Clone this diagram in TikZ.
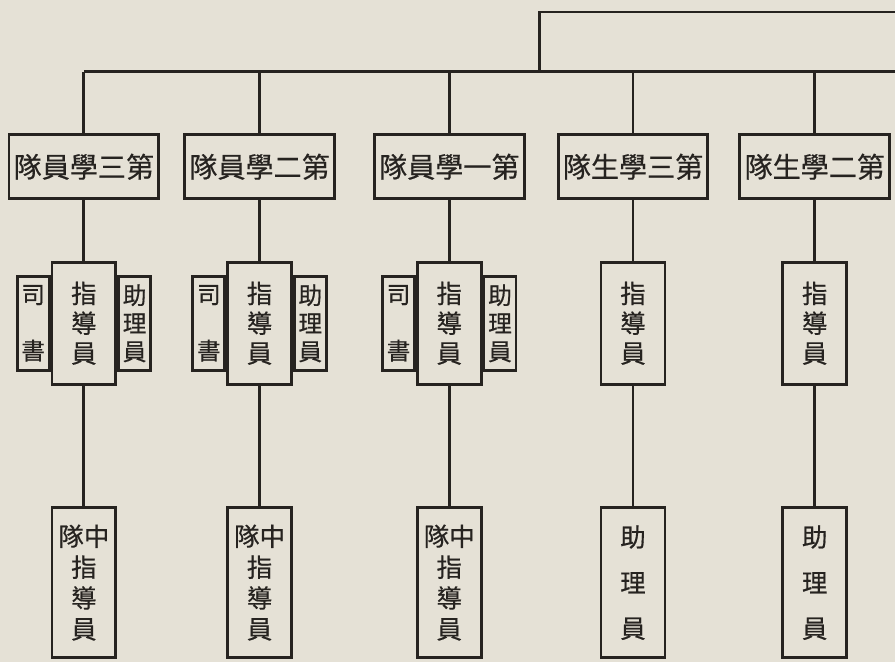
\documentclass[tikz,border=0pt]{standalone}
\usepackage{fontspec}
\newfontfamily\cjk[FakeBold=0.5]{Noto Sans CJK TC}
\usetikzlibrary{positioning}
\definecolor{paper}{RGB}{229,225,214}
\definecolor{ink}{RGB}{38,35,32}

\begin{document}
\begin{tikzpicture}[
  x=0.02cm, y=-0.02cm,
  color=ink, line width=1.6pt,
  unitbox/.style={draw, inner sep=0pt, minimum width=30mm, minimum height=12.8mm, font=\cjk\fontsize{16}{18}\selectfont},
  leadbox/.style={draw, inner sep=0pt, align=center, minimum width=12.8mm, minimum height=24.4mm, font=\cjk\fontsize{14.5}{17}\selectfont},
  sidebox/.style={draw, inner sep=0pt, align=center, minimum width=6.4mm, minimum height=18.8mm, font=\cjk\fontsize{13.5}{#1}\selectfont},
  lowbox/.style={draw, inner sep=0pt, align=center, minimum width=12.8mm, minimum height=30mm, font=\cjk\fontsize{14.5}{#1}\selectfont}
]
\fill[paper] (0,0) rectangle (896,663);

% top row
\node[unitbox] (t1) at (84,167) {隊員學三第};
\node[unitbox] (t2) at (260,167) {隊員學二第};
\node[unitbox] (t3) at (450,167) {隊員學一第};
\node[unitbox] (t4) at (634,167) {隊生學三第};
\node[unitbox] (t5) at (816,167) {隊生學二第};

% instructors
\node[leadbox, below=12.2mm of t1] (l1) {指\\導\\員};
\node[leadbox, below=12.2mm of t2] (l2) {指\\導\\員};
\node[leadbox, below=12.2mm of t3] (l3) {指\\導\\員};
\node[leadbox, below=12.2mm of t4] (l4) {指\\導\\員};
\node[leadbox, below=12.2mm of t5] (l5) {指\\導\\員};

\node[sidebox=32pt, left=0pt of l1] (s1) {司\\書};
\node[sidebox=16pt, right=0pt of l1] (a1) {助\\理\\員};
\node[sidebox=32pt, left=0pt of l2] (s2) {司\\書};
\node[sidebox=16pt, right=0pt of l2] (a2) {助\\理\\員};
\node[sidebox=32pt, left=0pt of l3] (s3) {司\\書};
\node[sidebox=16pt, right=0pt of l3] (a3) {助\\理\\員};

% bottom row
\node[lowbox=17.6pt, below=24.2mm of l1] (m1) {隊中\\指\\導\\員};
\node[lowbox=17.6pt, below=24.2mm of l2] (m2) {隊中\\指\\導\\員};
\node[lowbox=17.6pt, below=24.2mm of l3] (m3) {隊中\\指\\導\\員};
\node[lowbox=26pt, below=24.2mm of l4] (m4) {助\\理\\員};
\node[lowbox=26pt, below=24.2mm of l5] (m5) {助\\理\\員};

% bus lines
\coordinate (busR) at (896,72);
\coordinate (stem) at (540,12);
\coordinate (topR) at (896,12);
\draw (topR) -- (stem) -- (stem |- busR);
\draw (t1.north |- busR) -- (busR);

\foreach \i in {1,...,5} {
  \draw (t\i.north) -- (t\i.north |- busR);
  \draw (t\i) -- (l\i);
  \draw (l\i) -- (m\i);
}
\end{tikzpicture}
\end{document}
